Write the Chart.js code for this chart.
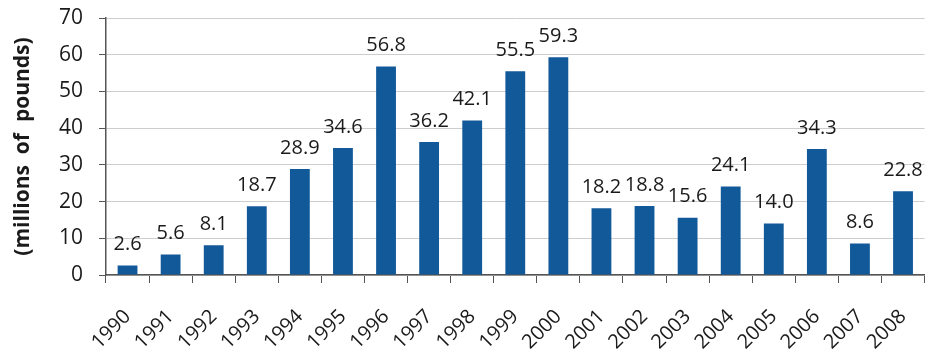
<!DOCTYPE html>
<html>
<head>
<meta charset="utf-8">
<script src="https://cdn.jsdelivr.net/npm/chart.js@4/dist/chart.umd.min.js"></script>
<style>
  html, body { margin: 0; padding: 0; background: #fff; }
  #wrap { width: 942px; height: 355px; position: relative; }
</style>
</head>
<body>
<div id="wrap"><canvas id="chLbs"></canvas></div>
<script>
// dati
const years  = ['1990','1991','1992','1993','1994','1995','1996','1997','1998','1999',
                '2000','2001','2002','2003','2004','2005','2006','2007','2008'];
const pounds = [2.6, 5.6, 8.1, 18.7, 28.9, 34.6, 56.8, 36.2, 42.1, 55.5,
                59.3, 18.2, 18.8, 15.6, 24.1, 14.0, 34.3, 8.6, 22.8];
const yTicks = [0, 10, 20, 30, 40, 50, 60, 70];

const FONT = '"Open Sans", "DejaVu Sans", sans-serif';

/* etichette valore sopra le barre (niente datalabels offline) */
const valueLabels = {
  id: 'valueLabels',
  afterDatasetsDraw(chart) {
    const ctx = chart.ctx;
    const meta = chart.getDatasetMeta(0);
    ctx.save();
    ctx.font = '20px ' + FONT;
    ctx.fillStyle = '#1a1a1a';
    ctx.textAlign = 'center';
    ctx.textBaseline = 'bottom';
    meta.data.forEach((bar, i) => {
      ctx.fillText(pounds[i].toFixed(1), bar.x, bar.y - 11);
    });
    ctx.restore();
  }
};

new Chart(document.getElementById('chLbs'), {
  type: 'bar',
  data: {
    labels: years,
    datasets: [{ data: pounds, backgroundColor: '#12599a', barPercentage: 0.5, categoryPercentage: 0.92 }]
  },
  options: {
    responsive: true, maintainAspectRatio: false, animation: false,
    layout: { padding: { top: 18, right: 0, left: 0, bottom: 0 } },
    plugins: { legend: { display: false }, tooltip: { enabled: false } },
    scales: {
      x: {
        offset: true,
        afterFit: s => { s.height = 80; },
        border: { display: true, color: '#555', width: 1.5 },
        grid: { display: true, drawOnChartArea: false, drawTicks: true, tickLength: 8, color: '#555', offset: true },
        ticks: { color: '#1a1a1a', font: { family: FONT, size: 20 }, minRotation: 45, maxRotation: 45, padding: 22 }
      },
      y: {
        min: 0, max: 70,
        afterFit: s => { s.width = 106; s.paddingTop = 0; s.paddingBottom = 0; },
        afterBuildTicks: s => { s.ticks = yTicks.map(v => ({ value: v })); },
        border: { display: true, color: '#555', width: 1.5 },
        grid: { color: '#cdcdcd', tickColor: '#555', tickLength: 7, borderDash: [2, 2] },
        ticks: { color: '#1a1a1a', font: { family: FONT, size: 21 }, padding: 16 },
        title: { display: true, text: '(millions  of  pounds)', color: '#1a1a1a', font: { family: FONT, size: 21, weight: 'bold' }, padding: { top: 10, bottom: 0 } }
      }
    }
  },
  plugins: [valueLabels]
});
</script>
</body>
</html>
